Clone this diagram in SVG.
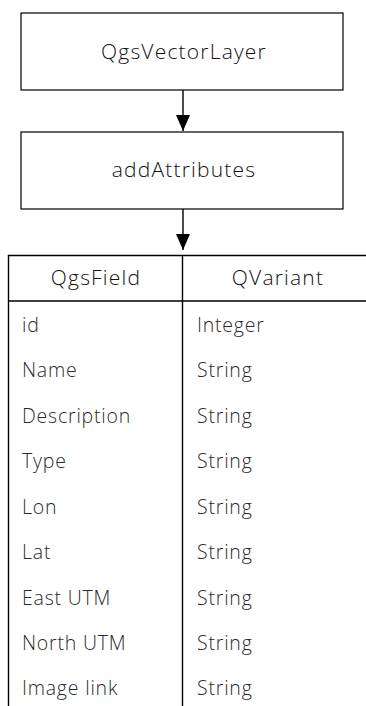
<svg xmlns="http://www.w3.org/2000/svg" width="366" height="706" viewBox="0 0 366 706">
<style>
.box{fill:#fff;stroke:#000;stroke-width:1.2}
.ln{stroke:#000;stroke-width:1.4;fill:none}
.t{font-family:"Open Sans","Noto Sans",sans-serif;font-size:21px;font-weight:300;letter-spacing:1.2px;fill:#111}
.c{text-anchor:middle}
.d{font-family:"Open Sans","Noto Sans",sans-serif;font-size:19.5px;font-weight:300;letter-spacing:0.8px;fill:#2a2a2a}
</style>
<defs>
<marker id="ah" markerWidth="16" markerHeight="14" refX="16" refY="7" orient="auto" markerUnits="userSpaceOnUse">
<path d="M0,0 L16,7 L0,14 Z" fill="#000"/>
</marker>
</defs>
<rect width="366" height="706" fill="#fff"/>
<g id="connectors">
<line class="ln" x1="183" y1="90" x2="183" y2="131" marker-end="url(#ah)"/>
<line class="ln" x1="183" y1="209" x2="183" y2="250" marker-end="url(#ah)"/>
</g>
<g id="n-vectorlayer">
<rect class="box" x="21" y="13" width="322" height="77"/>
<text class="t c" x="184" y="59">QgsVectorLayer</text>
</g>
<g id="n-addattributes">
<rect class="box" x="21" y="132" width="322" height="77"/>
<text class="t c" x="184" y="177">addAttributes</text>
</g>
<g id="n-table">
<path class="ln" d="M8.5,706 V255.5 H366 M182.5,255.5 V706 M8.5,301 H366"/>
<text class="t c" x="96" y="285">QgsField</text>
<text class="t c" x="278" y="285">QVariant</text>
<g class="d">
<text x="22" y="332">id</text><text x="197" y="332">Integer</text>
<text x="22" y="377">Name</text><text x="197" y="377">String</text>
<text x="22" y="423">Description</text><text x="197" y="423">String</text>
<text x="22" y="468">Type</text><text x="197" y="468">String</text>
<text x="22" y="514">Lon</text><text x="197" y="514">String</text>
<text x="22" y="559">Lat</text><text x="197" y="559">String</text>
<text x="22" y="605">East UTM</text><text x="197" y="605">String</text>
<text x="22" y="650">North UTM</text><text x="197" y="650">String</text>
<text x="22" y="695">Image link</text><text x="197" y="695">String</text>
</g>
</g>
</svg>
